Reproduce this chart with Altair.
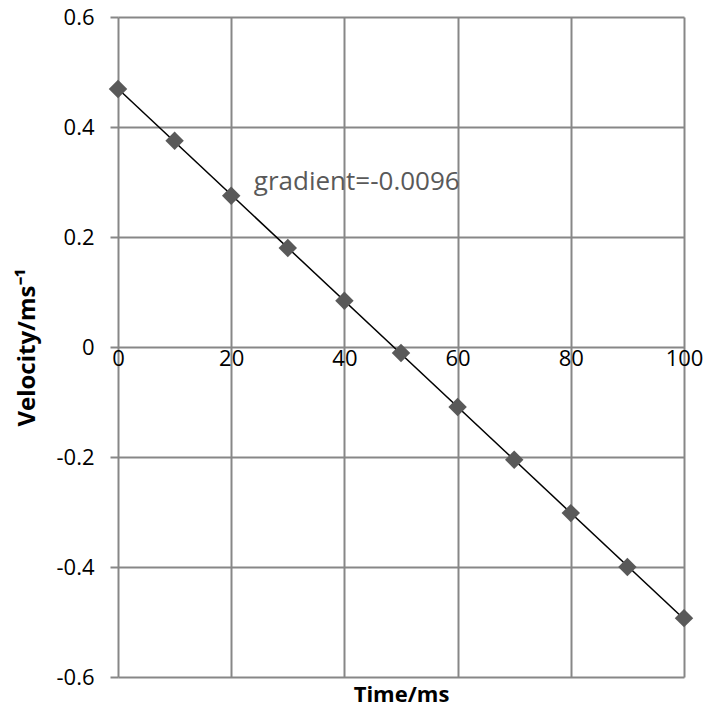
import altair as alt
import pandas as pd

time_ms = [0, 10, 20, 30, 40, 50, 60, 70, 80, 90, 100]
velocity = [0.469, 0.375, 0.275, 0.180, 0.084, -0.011, -0.109, -0.205, -0.302, -0.400, -0.493]
x_ticks = [0, 20, 40, 60, 80, 100]
y_ticks = [-0.6, -0.4, -0.2, 0, 0.2, 0.4, 0.6]
note_text = ["gradient=-0.0096"]
note_x = [24]
note_y = [0.30]

W, H = 566, 660
TOP = 9
FONT = "Open Sans"
GRID = "#878787"

df = pd.DataFrame({"t": time_ms, "v": velocity})
note_df = pd.DataFrame({"t": note_x, "v": note_y, "label": note_text})

xscale = alt.Scale(domain=[0, 100], nice=False, zero=False)
yscale = alt.Scale(domain=[-0.6, 0.6], nice=False, zero=False)

x_enc = alt.X(
    "t:Q", scale=xscale,
    axis=alt.Axis(
        values=x_ticks, title="Time/ms", offset=-H / 2, domain=False, ticks=False,
        grid=True, gridColor=GRID, gridWidth=2, gridOpacity=1,
        labelFont=FONT, labelFontSize=22, labelColor="#000000", labelPadding=1,
        labelFlush=False, labelOverlap=False,
        titleFont=FONT, titleFontSize=22, titleFontWeight="bold", titleColor="#000000",
        titleBaseline="alphabetic", titleY=693 - (TOP + H / 2),
    ),
)
y_enc = alt.Y(
    "v:Q", scale=yscale,
    axis=alt.Axis(
        values=y_ticks, title="Velocity/ms⁻¹", domain=False, ticks=True, tickSize=8,
        tickColor=GRID, tickWidth=2, grid=True, gridColor=GRID, gridWidth=2, gridOpacity=1,
        labelFont=FONT, labelFontSize=22, labelColor="#000000", labelPadding=16,
        labelExpr="toString(round(datum.value*10)/10)", labelFlush=False, labelOverlap=False,
        titleFont=FONT, titleFontSize=24, titleFontWeight="bold", titleColor="#000000",
        titleX=-79, titleY=H / 2,
    ),
)

base = alt.Chart(df)
fit = base.transform_regression("t", "v", extent=[0, 100]).mark_line(
    color="#000000", strokeWidth=1.5
).encode(x=x_enc, y=y_enc)
points = base.mark_point(
    shape="diamond", filled=True, size=340, color="#595959", opacity=1
).encode(x="t:Q", y="v:Q")
note = alt.Chart(note_df).mark_text(
    align="left", baseline="middle", font=FONT, fontSize=26, color="#595959"
).encode(x="t:Q", y="v:Q", text="label:N")

chart = alt.layer(fit, points, note).properties(
    width=W, height=H,
    autosize=alt.AutoSizeParams(type="none"),
    padding={"left": 110, "top": TOP, "right": 23, "bottom": 699 - TOP - H},
).configure_view(stroke=None)

chart.save("out.html", embed_options={"renderer": "svg", "actions": False})
